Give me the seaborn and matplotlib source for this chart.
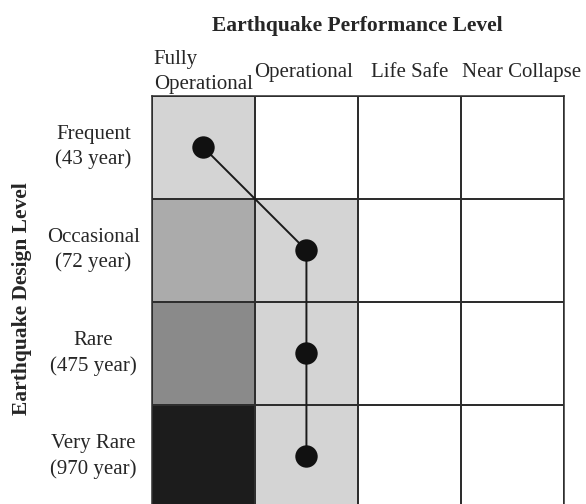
import numpy as np
import pandas as pd
import matplotlib
matplotlib.use("Agg")
import matplotlib.pyplot as plt
import seaborn as sns

# ---- data ----
design_levels = ["Frequent\n(43 year)", "Occasional\n(72 year)",
                 "Rare\n(475 year)", "Very Rare\n(970 year)"]
performance_levels = ["Fully\nOperational", "Operational", "Life Safe", "Near Collapse"]
# gray level of each cell (1 = white, 0 = black)
cell_shade = [
    [0.83, 1.00, 1.00, 1.00],
    [0.67, 0.83, 1.00, 1.00],
    [0.54, 0.83, 1.00, 1.00],
    [0.11, 0.83, 1.00, 1.00],
]
target_performance = ["Fully\nOperational", "Operational", "Operational", "Operational"]

sns.set_style("white")
plt.rcParams["font.family"] = ["Liberation Serif", "DejaVu Serif"]
text_color = "#262626"

W, H = 586, 504
fig = plt.figure(figsize=(W / 100, H / 100), dpi=100)
ax = fig.add_axes([151.7 / W, 1 - 508 / H, 412.6 / W, 412.3 / H])

df = pd.DataFrame(cell_shade, index=design_levels, columns=performance_levels)
sns.heatmap(df, cmap="gray", vmin=0, vmax=1, cbar=False,
            linewidths=1.1, linecolor="#2e2e2e", ax=ax)

for s in ax.spines.values():
    s.set_visible(True)
    s.set_linewidth(1.1)
    s.set_color("#2e2e2e")

# path of target performance
px = [performance_levels.index(p) + 0.5 for p in target_performance]
py = [design_levels.index(d) + 0.5 for d in design_levels]
sns.lineplot(x=px, y=py, sort=False, estimator=None, color="#1a1a1a",
             linewidth=1.4, ax=ax, zorder=3)
sns.scatterplot(x=px, y=py, s=260, color="#111111", edgecolor="#111111",
                linewidth=0, ax=ax, zorder=4)

ax.set_xlim(0, 4)
ax.set_ylim(4, 0)
ax.set_xlabel("")
ax.set_ylabel("")

ax.xaxis.tick_top()
# label anchors (last label sits a little right of its column centre)
ax.set_xticks([0.5, 1.47, 2.5, 3.59])
ax.set_xticklabels(performance_levels, rotation=0, ha="center", va="center",
                   multialignment="left", fontsize=15, color=text_color,
                   linespacing=1.38)
ax.tick_params(axis="x", which="both", length=0, pad=17, top=True, bottom=False,
               labeltop=True, labelbottom=False)

ax.set_yticks(np.arange(4) + 0.5)
ax.set_yticklabels(design_levels, rotation=0, ha="center", va="center",
                   multialignment="center", fontsize=15, color=text_color,
                   linespacing=1.38)
ax.tick_params(axis="y", which="both", length=0, pad=42)

fig.text(357 / W, 1 - 26 / H, "Earthquake Performance Level", ha="center",
         va="center", fontsize=15.5, fontweight="bold", color=text_color)
fig.text(22 / W, 1 - 299 / H, "Earthquake Design Level", ha="center",
         va="center", rotation=90, fontsize=15.5, fontweight="bold",
         color=text_color)

fig.savefig("out.png", dpi=100)
